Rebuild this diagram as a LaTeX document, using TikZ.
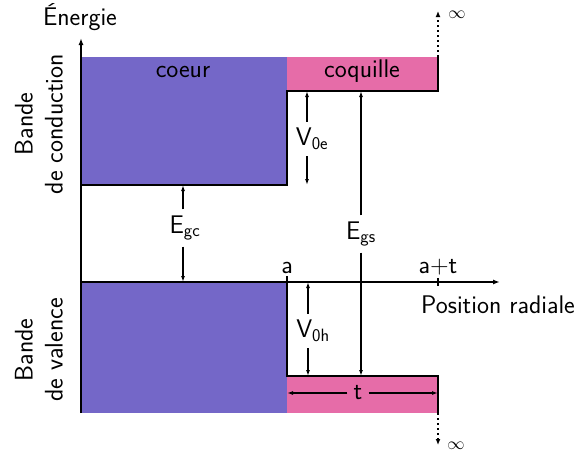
\documentclass[tikz,border=0pt]{standalone}
\usetikzlibrary{arrows.meta}
\definecolor{coeurcol}{RGB}{116,103,200}
\definecolor{coqcol}{RGB}{230,108,168}
\tikzset{
  txt/.style={font=\sffamily\fontsize{25.5}{30}\selectfont, inner sep=0pt},
  dimlabel/.style={txt, inner sep=6pt},
  outline/.style={line width=2.2pt, line join=miter},
  axisline/.style={line width=1.9pt, -{Latex[length=7pt,width=5pt]}},
  dimarrow/.style={line width=1.2pt, -{Latex[length=6pt,width=4pt]}},
  dotarrow/.style={line width=1.8pt, dash pattern=on 1.8pt off 3.2pt, -{Latex[length=6pt,width=5pt]}},
  inftxt/.style={font=\fontsize{19}{24}\selectfont, inner sep=0pt}
}
\begin{document}
\begin{tikzpicture}[x=1pt,y=-1pt]
\useasboundingbox (0,0) rectangle (582,459);
% key coordinates
\coordinate (O) at (81,282);
\coordinate (ytop) at (81,38);
\coordinate (ybot) at (81,413);
\coordinate (xend) at (500,282);
\coordinate (cbcore) at (81,185);
\coordinate (cbstep) at (287,185);
\coordinate (cbshell) at (287,91);
\coordinate (cbend) at (438,91);
\coordinate (cbtop) at (438,57);
\coordinate (cbinf) at (438,11);
\coordinate (atick) at (287,276);
\coordinate (vbstep) at (287,376);
\coordinate (vbend) at (438,376);
\coordinate (vbbot) at (438,413);
\coordinate (vbinf) at (438,445);
\coordinate (tA) at (438,278);
\coordinate (tB) at (438,286);
% fills
\fill[coeurcol] (81,57) rectangle (287,185);
\fill[coqcol] (287,57) rectangle (438,91);
\fill[coeurcol] (81,282) rectangle (287,413);
\fill[coqcol] (287,376) rectangle (438,413);
% outlines
\draw[outline] (cbcore) -- (cbstep) -- (cbshell) -- (cbend) -- (cbtop);
\draw[outline] (atick) -- (vbstep) -- (vbend) -- (vbbot);
\draw[dotarrow] (cbtop) -- (cbinf);
\draw[dotarrow] (vbbot) -- (vbinf);
% axes
\draw[axisline] (ybot) -- (ytop);
\draw[axisline] (O) -- (xend);
\draw[line width=1.5pt] (tA) -- (tB);
% texts
\node[txt, anchor=base] (energie) at (80,25) {Énergie};
\node[txt, anchor=base west] (posrad) at (421,313) {Position radiale};
\node[txt, anchor=base] (coeur) at (183,77) {coeur};
\node[txt, anchor=base] (coquille) at (362,77) {coquille};
\node[txt, anchor=base] (alab) at (287,273) {a};
\node[txt, anchor=base] (atlab) at (438,273) {a+t};
\node[txt, rotate=90, align=center] (bc) at (39,124) {Bande\\de conduction};
\node[txt, rotate=90, align=center] (bv) at (39,350) {Bande\\de valence};
\node[inftxt] (inf1) at (457,15) {$\infty$};
\node[inftxt] (inf2) at (456,446) {$\infty$};
% dimension labels
\coordinate (egcT) at (183,185);
\coordinate (egcB) at (183,282);
\coordinate (v0eT) at (307,91);
\coordinate (v0eB) at (307,185);
\coordinate (egsT) at (361,91);
\coordinate (egsB) at (361,376);
\coordinate (v0hT) at (308,282);
\coordinate (v0hB) at (308,376);
\coordinate (tL) at (287,393);
\coordinate (tR) at (438,393);
\node[dimlabel] (egc) at (185,228) {E\textsubscript{gc}};
\node[dimlabel] (v0e) at (312,139) {V\textsubscript{0e}};
\node[dimlabel] (egs) at (361,234) {E\textsubscript{gs}};
\node[dimlabel] (v0h) at (313,331) {V\textsubscript{0h}};
\node[dimlabel, inner ysep=2pt] (tlab) at (358,393) {t};
\draw[dimarrow] (egc.north -| egcT) -- (egcT);
\draw[dimarrow] (egc.south -| egcB) -- (egcB);
\draw[dimarrow] (v0e.north -| v0eT) -- (v0eT);
\draw[dimarrow] (v0e.south -| v0eB) -- (v0eB);
\draw[dimarrow] (egs.north -| egsT) -- (egsT);
\draw[dimarrow] (egs.south -| egsB) -- (egsB);
\draw[dimarrow] (v0h.north -| v0hT) -- (v0hT);
\draw[dimarrow] (v0h.south -| v0hB) -- (v0hB);
\draw[dimarrow] (tlab.west |- tL) -- (tL);
\draw[dimarrow] (tlab.east |- tR) -- (tR);
\end{tikzpicture}
\end{document}
